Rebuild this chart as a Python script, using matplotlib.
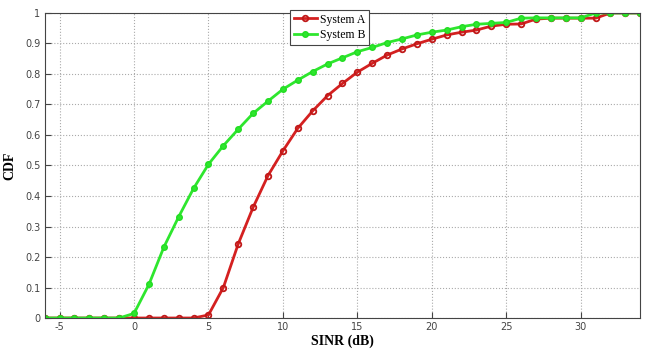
"""
CDF of SINR for two systems
"""

import matplotlib
matplotlib.use('Agg')
import matplotlib.pyplot as plt

plt.rcParams['axes.unicode_minus'] = False

sinr = list(range(-6, 35))

system_a = [0, 0, 0, 0, 0, 0, 0, 0, 0, 0, 0,
            0.01, 0.10, 0.243, 0.363, 0.467, 0.548, 0.622, 0.679, 0.729, 0.769,
            0.806, 0.835, 0.862, 0.882, 0.899, 0.914, 0.928, 0.937, 0.944, 0.957,
            0.963, 0.964, 0.980, 0.983, 0.983, 0.983, 0.983, 1.0, 1.0, 1.0]

system_b = [0, 0, 0, 0, 0, 0, 0.015, 0.11, 0.232, 0.332, 0.425,
            0.504, 0.565, 0.619, 0.671, 0.711, 0.75, 0.78, 0.808, 0.833, 0.853,
            0.873, 0.887, 0.903, 0.915, 0.928, 0.937, 0.944, 0.955, 0.963, 0.966,
            0.969, 0.983, 0.984, 0.984, 0.984, 0.984, 1.0, 1.0, 1.0, 1.0]

xticks = [-5, 0, 5, 10, 15, 20, 25, 30]
yticks = [0, 0.1, 0.2, 0.3, 0.4, 0.5, 0.6, 0.7, 0.8, 0.9, 1]
ytick_labels = ['0', '0.1', '0.2', '0.3', '0.4', '0.5', '0.6', '0.7', '0.8', '0.9', '1']

fig = plt.figure(figsize=(6.48, 3.51), dpi=100)
ax = fig.add_axes([0.069, 0.094, 0.919, 0.869])

ax.plot(sinr, system_a, color='#d42020', lw=2, marker='o', ms=4,
        mfc='none', mec='#c01818', mew=1.3, label='System A')
ax.plot(sinr, system_b, color='#2ee62e', lw=2, marker='o', ms=4,
        mfc='#2ee62e', mec='#22dd22', mew=1.0, label='System B')

ax.set_xlim(-6, 34)
ax.set_ylim(0, 1)
ax.set_xticks(xticks)
ax.set_yticks(yticks)
ax.set_yticklabels(ytick_labels)
ax.tick_params(direction='in', labelsize=7, colors='#444444', length=4, pad=3)
for s in ax.spines.values():
    s.set_color('#444444')
    s.set_linewidth(0.8)
ax.grid(True, linestyle=':', color='#aaaaaa', linewidth=0.8)

ax.set_xlabel('SINR (dB)', fontfamily='Liberation Serif', fontweight='bold',
              fontsize=10, labelpad=2)
ax.set_ylabel('CDF', fontfamily='Liberation Serif', fontweight='bold',
              fontsize=10, labelpad=6)

leg = fig.legend(loc='upper left', bbox_to_anchor=(290 / 648, 1 - 10 / 351),
                 prop={'family': 'Liberation Serif', 'size': 8.5},
                 fancybox=False, edgecolor='#444444', framealpha=1,
                 handlelength=2.0, borderpad=0.3, labelspacing=0.3,
                 handletextpad=0.2, borderaxespad=0)
leg.get_frame().set_linewidth(0.8)

fig.savefig('out.png', dpi=100)
